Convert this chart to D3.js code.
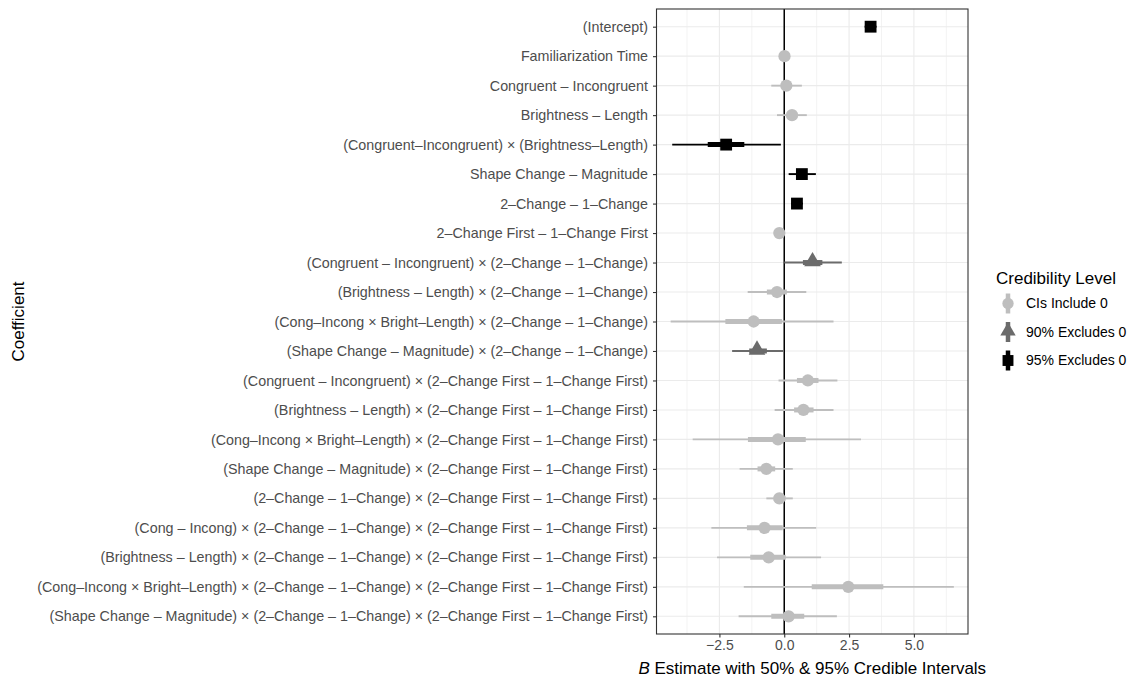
<!DOCTYPE html>
<html>
<head>
<meta charset="utf-8">
<script src="https://cdn.jsdelivr.net/npm/d3@7"></script>
<style>
  html, body { margin: 0; padding: 0; background: #fff; }
  svg { display: block; font-family: "Liberation Sans", Arial, Helvetica, sans-serif; }
</style>
</head>
<body>
<svg id="chart" width="1145" height="679"></svg>
<script>
const coefficients = [
  "(Intercept)",
  "Familiarization Time",
  "Congruent – Incongruent",
  "Brightness – Length",
  "(Congruent–Incongruent) × (Brightness–Length)",
  "Shape Change – Magnitude",
  "2–Change – 1–Change",
  "2–Change First – 1–Change First",
  "(Congruent – Incongruent) × (2–Change – 1–Change)",
  "(Brightness – Length) × (2–Change – 1–Change)",
  "(Cong–Incong × Bright–Length) × (2–Change – 1–Change)",
  "(Shape Change – Magnitude) × (2–Change – 1–Change)",
  "(Congruent – Incongruent) × (2–Change First – 1–Change First)",
  "(Brightness – Length) × (2–Change First – 1–Change First)",
  "(Cong–Incong × Bright–Length) × (2–Change First – 1–Change First)",
  "(Shape Change – Magnitude) × (2–Change First – 1–Change First)",
  "(2–Change – 1–Change) × (2–Change First – 1–Change First)",
  "(Cong – Incong) × (2–Change – 1–Change) × (2–Change First – 1–Change First)",
  "(Brightness – Length) × (2–Change – 1–Change) × (2–Change First – 1–Change First)",
  "(Cong–Incong × Bright–Length) × (2–Change – 1–Change) × (2–Change First – 1–Change First)",
  "(Shape Change – Magnitude) × (2–Change – 1–Change) × (2–Change First – 1–Change First)"
];
const estimate = [3.33, 0.01, 0.08, 0.30, -2.24, 0.68, 0.49, -0.19, 1.09, -0.28, -1.18, -1.05, 0.91, 0.74, -0.24, -0.69, -0.19, -0.76, -0.60, 2.47, 0.17];
const lower95  = [3.10, -0.10, -0.50, -0.28, -4.32, 0.17, 0.26, -0.35, 0.00, -1.41, -4.38, -2.01, -0.22, -0.37, -3.53, -1.72, -0.69, -2.81, -2.59, -1.56, -1.76];
const upper95  = [3.56, 0.12, 0.68, 0.87, -0.13, 1.22, 0.72, -0.03, 2.22, 0.85, 1.90, -0.03, 2.05, 1.90, 2.96, 0.33, 0.33, 1.23, 1.42, 6.54, 2.03];
const lower50  = [3.25, -0.04, -0.12, 0.10, -2.95, 0.50, 0.40, -0.25, 0.72, -0.67, -2.27, -1.35, 0.49, 0.38, -1.40, -1.03, -0.40, -1.44, -1.31, 1.06, -0.50];
const upper50  = [3.41, 0.06, 0.28, 0.50, -1.54, 0.86, 0.58, -0.13, 1.47, 0.10, -0.09, -0.67, 1.32, 1.13, 0.83, -0.35, 0.05, -0.06, 0.06, 3.82, 0.77];
const level    = [2, 0, 0, 0, 2, 2, 2, 0, 1, 0, 0, 1, 0, 0, 0, 0, 0, 0, 0, 0, 0];
const levelLabels = ["CIs Include 0", "90% Excludes 0", "95% Excludes 0"];
const levelColors = ["#bebebe", "#6b6b6b", "#000000"];
const xTicks = [-2.5, 0, 2.5, 5];
const xMinor = [-3.75, -1.25, 1.25, 3.75, 6.25];

const svg = d3.select("#chart");
const panel = { left: 656.5, right: 968, top: 9, bottom: 634 };
const FONT = "'Liberation Sans', Arial, sans-serif";

const lo = d3.min(lower95), hi = d3.max(upper95);
const pad = (hi - lo) * 0.05;
const x = d3.scaleLinear().domain([lo - pad, hi + pad]).range([panel.left, panel.right]);
const y = d3.scalePoint().domain(coefficients).range([panel.top, panel.bottom]).padding(0.6);

const data = coefficients.map((c, i) => ({
  c, est: estimate[i], l95: lower95[i], u95: upper95[i], l50: lower50[i], u50: upper50[i], lev: level[i]
}));

svg.append("rect").attr("x", panel.left).attr("y", panel.top)
  .attr("width", panel.right - panel.left).attr("height", panel.bottom - panel.top).attr("fill", "#fff");

const grid = svg.append("g");
grid.selectAll(".minor").data(xMinor.filter(v => x(v) > panel.left && x(v) < panel.right)).join("line")
  .attr("x1", d => x(d)).attr("x2", d => x(d)).attr("y1", panel.top).attr("y2", panel.bottom)
  .attr("stroke", "#ebebeb").attr("stroke-width", 0.6);
grid.selectAll(".major").data(xTicks).join("line")
  .attr("x1", d => x(d)).attr("x2", d => x(d)).attr("y1", panel.top).attr("y2", panel.bottom)
  .attr("stroke", "#ebebeb").attr("stroke-width", 1.1);
grid.selectAll(".hmajor").data(coefficients).join("line")
  .attr("x1", panel.left).attr("x2", panel.right).attr("y1", d => y(d)).attr("y2", d => y(d))
  .attr("stroke", "#ebebeb").attr("stroke-width", 1.1);

svg.append("line").attr("x1", x(0)).attr("x2", x(0)).attr("y1", panel.top).attr("y2", panel.bottom)
  .attr("stroke", "#000").attr("stroke-width", 1.5);

const marks = svg.append("g");
marks.selectAll(".l95").data(data).join("line")
  .attr("x1", d => x(d.l95)).attr("x2", d => x(d.u95)).attr("y1", d => y(d.c)).attr("y2", d => y(d.c))
  .attr("stroke", d => levelColors[d.lev]).attr("stroke-width", 1.9);
marks.selectAll(".l50").data(data).join("line")
  .attr("x1", d => x(d.l50)).attr("x2", d => x(d.u50)).attr("y1", d => y(d.c)).attr("y2", d => y(d.c))
  .attr("stroke", d => levelColors[d.lev]).attr("stroke-width", 5);

const shapes = [d3.symbolCircle, d3.symbolTriangle, d3.symbolSquare];
const sizes = [118, 120, 140];
const sym = d3.symbol();
marks.selectAll(".pt").data(data).join("path")
  .attr("transform", d => `translate(${x(d.est)},${y(d.c) + (d.lev === 1 ? -1 : 0)})`)
  .attr("d", d => sym.type(shapes[d.lev]).size(sizes[d.lev])())
  .attr("fill", d => levelColors[d.lev]);

svg.append("rect").attr("x", panel.left).attr("y", panel.top)
  .attr("width", panel.right - panel.left).attr("height", panel.bottom - panel.top)
  .attr("fill", "none").attr("stroke", "#333").attr("stroke-width", 1.1);

const xAxis = svg.append("g").attr("transform", `translate(0,${panel.bottom})`)
  .call(d3.axisBottom(x).tickValues(xTicks).tickSize(3.5).tickPadding(2.5)
    .tickFormat(d => d3.format(".1f")(d).replace("-", "\u2212")));
xAxis.select(".domain").remove();
xAxis.selectAll(".tick line").attr("stroke", "#333").attr("stroke-width", 1.1);
xAxis.selectAll(".tick text").attr("fill", "#4d4d4d").style("font-size", "14px").style("font-family", FONT);

const yAxis = svg.append("g").attr("transform", `translate(${panel.left},0)`)
  .call(d3.axisLeft(y).tickSize(3.5).tickPadding(5));
yAxis.select(".domain").remove();
yAxis.selectAll(".tick line").attr("stroke", "#333").attr("stroke-width", 1.1);
yAxis.selectAll(".tick text").attr("fill", "#4d4d4d").style("font-size", "14.3px").style("font-family", FONT);

const xt = svg.append("text").attr("x", (panel.left + panel.right) / 2).attr("y", 674)
  .attr("text-anchor", "middle").style("font-size", "17px").attr("fill", "#000");
xt.append("tspan").style("font-style", "italic").text("B");
xt.append("tspan").text(" Estimate with 50% & 95% Credible Intervals");

svg.append("text").attr("transform", `translate(24,${(panel.top + panel.bottom) / 2}) rotate(-90)`)
  .attr("text-anchor", "middle").style("font-size", "17px").attr("fill", "#000").text("Coefficient");

const lg = svg.append("g").attr("transform", "translate(996,0)");
lg.append("text").attr("x", 0).attr("y", 284).style("font-size", "17px").attr("fill", "#000").text("Credibility Level");
const keyY = [303.5, 332, 360.5];
levelLabels.forEach((lab, i) => {
  const g = lg.append("g").attr("transform", `translate(12,${keyY[i]})`);
  g.append("line").attr("x1", 0).attr("x2", 0).attr("y1", -10).attr("y2", 10)
    .attr("stroke", levelColors[i]).attr("stroke-width", 4.5);
  g.append("path").attr("d", sym.type(shapes[i]).size(sizes[i] * 0.85)()).attr("fill", levelColors[i])
    .attr("transform", i === 1 ? "translate(0,-1)" : null);
  lg.append("text").attr("x", 30).attr("y", keyY[i]).attr("dy", "0.35em")
    .style("font-size", "14px").attr("fill", "#000").text(lab);
});
</script>
</body>
</html>
